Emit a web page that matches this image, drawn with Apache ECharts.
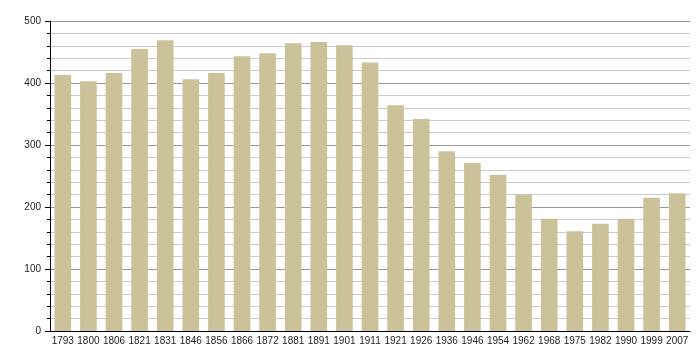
<!DOCTYPE html>
<html><head><meta charset="utf-8">
<script src="https://cdn.jsdelivr.net/npm/echarts@6/dist/echarts.min.js"></script>
<style>html,body{margin:0;padding:0;background:#fff}#c{width:700px;height:360px}</style>
</head><body><div id="c"></div>
<script>
const years = ['1793','1800','1806','1821','1831','1846','1856','1866','1872','1881','1891','1901','1911','1921','1926','1936','1946','1954','1962','1968','1975','1982','1990','1999','2007'];
const population = [413,403,416,455,469,406,416,443,448,464,466,461,433,364,342,290,271,252,220,181,161,173,181,215,222];
const yTicks = [0,100,200,300,400,500];

const chart = echarts.init(document.getElementById('c'));
chart.setOption({
  animation:false,
  grid:{left:50,right:10,top:21,bottom:29,containLabel:false},
  xAxis:{type:'category',data:years,
    axisLine:{lineStyle:{color:'#000',width:1}},
    axisTick:{show:false},
    axisLabel:{color:'#222',fontSize:10,fontFamily:'Liberation Sans, Arial, sans-serif',margin:5,interval:0}
  },
  yAxis:{type:'value',min:yTicks[0],max:yTicks[yTicks.length-1],interval:100,
    axisLine:{show:true,lineStyle:{color:'#000',width:1}},
    axisTick:{show:true,length:5,lineStyle:{color:'#000'}},
    minorTick:{show:true,splitNumber:5,length:3,lineStyle:{color:'#000'}},
    splitLine:{show:true,lineStyle:{color:'#999',width:1}},
    minorSplitLine:{show:true,lineStyle:{color:'#ccc',width:1}},
    axisLabel:{color:'#222',fontSize:10,fontFamily:'Liberation Sans, Arial, sans-serif',margin:9}
  },
  series:[{type:'bar',data:population,barCategoryGap:'35%',itemStyle:{color:'#cbc29a'}}]
});
</script></body></html>
